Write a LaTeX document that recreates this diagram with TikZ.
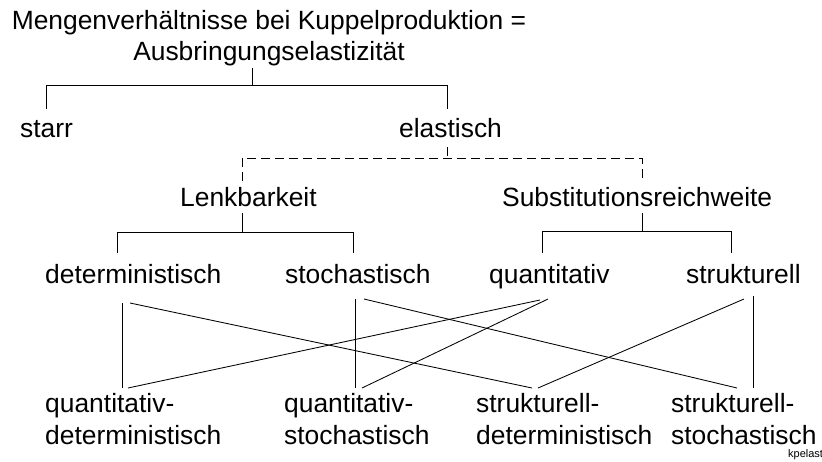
\documentclass[tikz,border=0pt]{standalone}
\usepackage{fontspec}
\setmainfont{Liberation Sans}
\begin{document}
\begin{tikzpicture}[x=1pt,y=-1pt,
  lbl/.style={inner sep=0pt, anchor=base west, font=\fontsize{26.4}{31}\selectfont},
  lblc/.style={inner sep=0pt, anchor=base, font=\fontsize{26.4}{31}\selectfont},
  tag/.style={inner sep=0pt, anchor=base west, font=\fontsize{11}{13}\selectfont},
  link/.style={draw=black, line width=0.85pt},
  optlink/.style={link, dash pattern=on 9pt off 5pt}]
\useasboundingbox (0,0) rectangle (822,461);

% heading
\node[lblc] (head1) at (269,29) {Mengenverhältnisse bei Kuppelproduktion =};
\node[lblc] (head2) at (269,60) {Ausbringungselastizität};

% first level
\node[lbl] (starr) at (20,137) {starr};
\node[lbl] (elast) at (399,137) {elastisch};

% second level
\node[lbl] (lenk) at (180,206) {Lenkbarkeit};
\node[lbl] (subst) at (502,206) {Substitutionsreichweite};

% third level
\node[lbl] (det) at (45,283) {deterministisch};
\node[lbl] (sto) at (285,283) {stochastisch};
\node[lbl] (quant) at (489,283) {quantitativ};
\node[lbl] (strukt) at (686,283) {strukturell};

% combinations
\node[lbl] (qd) at (45,412) {quantitativ-};
\node[lbl] (qd2) at (45,444) {deterministisch};
\node[lbl] (qs) at (284,412) {quantitativ-};
\node[lbl] (qs2) at (284,444) {stochastisch};
\node[lbl] (sd) at (476,412) {strukturell-};
\node[lbl] (sd2) at (476,444) {deterministisch};
\node[lbl] (ss) at (671,412) {strukturell-};
\node[lbl] (ss2) at (671,444) {stochastisch};

\node[tag] (code) at (788,457.7) {kpelast};

% connection points
\coordinate (headP) at (252,68);
\coordinate (headJ) at (252,85);
\coordinate (starrJ) at (46,85);
\coordinate (starrP) at (46,109);
\coordinate (elastJ) at (447,85);
\coordinate (elastP) at (447,109);

\coordinate (elastB) at (447,147);
\coordinate (elastD) at (447,158);
\coordinate (lenkJ) at (242,158);
\coordinate (lenkP) at (242,181);
\coordinate (substJ) at (642,158);
\coordinate (substP) at (642,181);

\coordinate (lenkB) at (242,213);
\coordinate (lenkD) at (242,232);
\coordinate (detJ) at (117,232);
\coordinate (detP) at (117,253);
\coordinate (stoJ) at (353,232);
\coordinate (stoP) at (353,253);

\coordinate (substB) at (642,213);
\coordinate (substD) at (642,231);
\coordinate (quantJ) at (542,231);
\coordinate (quantP) at (542,253);
\coordinate (struktJ) at (731,231);
\coordinate (struktP) at (731,253);

\coordinate (detB1) at (122,303);
\coordinate (detB2) at (130,303);
\coordinate (stoB1) at (355,299);
\coordinate (stoB2) at (364,299);
\coordinate (quantB1) at (540,300);
\coordinate (quantB2) at (548,299);
\coordinate (struktB1) at (744,299);
\coordinate (struktB2) at (753,296);

\coordinate (qdT1) at (122,388);
\coordinate (qdT2) at (128,388);
\coordinate (qsT1) at (355,388);
\coordinate (qsT2) at (362,388);
\coordinate (sdT1) at (532,388);
\coordinate (sdT2) at (538,388);
\coordinate (ssT1) at (737,388);
\coordinate (ssT2) at (753,388);

% tree
\draw[link] (headP) -- (headJ);
\draw[link] (starrP) -- (starrJ) -- (elastJ) -- (elastP);

\draw[optlink] (elastB) -- (elastD);
\draw[optlink] (lenkP) -- (lenkJ) -- (substJ) -- (substP);

\draw[link] (lenkB) -- (lenkD);
\draw[link] (detP) -- (detJ) -- (stoJ) -- (stoP);
\draw[link] (substB) -- (substD);
\draw[link] (quantP) -- (quantJ) -- (struktJ) -- (struktP);

% combinations
\draw[link] (detB1) -- (qdT1);
\draw[link] (detB2) -- (sdT1);
\draw[link] (quantB1) -- (qdT2);
\draw[link] (quantB2) -- (qsT2);
\draw[link] (stoB1) -- (qsT1);
\draw[link] (stoB2) -- (ssT1);
\draw[link] (struktB2) -- (ssT2);
\draw[link] (struktB1) -- (sdT2);
\end{tikzpicture}
\end{document}
